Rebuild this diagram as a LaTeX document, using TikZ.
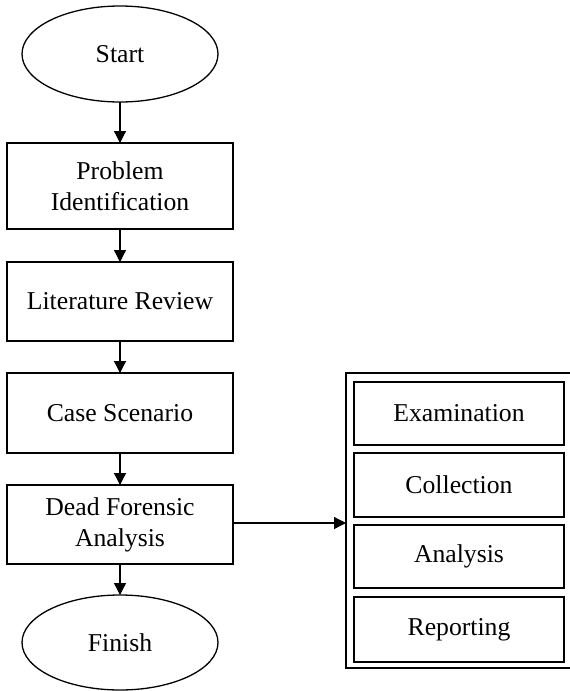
\documentclass[tikz,border=0pt]{standalone}
\usepackage{fontspec}
\setmainfont{Liberation Serif}
\usetikzlibrary{shapes.geometric,arrows.meta}
\begin{document}
\begin{tikzpicture}[x=1pt,y=-1pt,
  every node/.style={inner sep=0pt,outer sep=0pt,font=\fontsize{25.7}{31}\selectfont,align=center},
  term/.style={draw,ellipse,line width=1.3pt,minimum width=196pt,minimum height=96pt},
  proc/.style={draw,rectangle,line width=1.3pt,minimum width=226pt},
  sub/.style={draw,rectangle,line width=1.3pt,minimum width=210pt},
  conn/.style={line width=1.3pt,-{Triangle[length=12pt,width=12pt]}}]
\useasboundingbox (0,0) rectangle (570,691);
\node[term] (start) at (120,54) {Start};
\node[proc,minimum height=86pt] (prob) at (120,186) {Problem\\Identification};
\node[proc,minimum height=79pt] (lit) at (120,301.5) {Literature Review};
\node[proc,minimum height=80pt] (case) at (120,413) {Case Scenario};
\node[proc,minimum height=79pt] (dead) at (120,524.5) {Dead Forensic\\Analysis};
\node[term,minimum height=95pt] (finish) at (120,642.5) {Finish};
\node[draw,rectangle,line width=1.3pt,minimum width=232pt,minimum height=295pt] (outer) at (462,520.5) {};
\node[sub,minimum height=63pt] (exam) at (459,413.5) {Examination};
\node[sub,minimum height=64pt] (coll) at (459,485) {Collection};
\node[sub,minimum height=63pt] (anal) at (459,556.5) {Analysis};
\node[sub,minimum height=65pt] (rep) at (459,629.5) {Reporting};
\draw[conn] (start) -- (prob);
\draw[conn] (prob) -- (lit);
\draw[conn] (lit) -- (case);
\draw[conn] (case) -- (dead);
\draw[conn] (dead) -- (finish);
\draw[conn] ([yshift=1.5pt]dead.east) -- ([yshift=1.5pt]dead.east -| outer.west);
\end{tikzpicture}
\end{document}
